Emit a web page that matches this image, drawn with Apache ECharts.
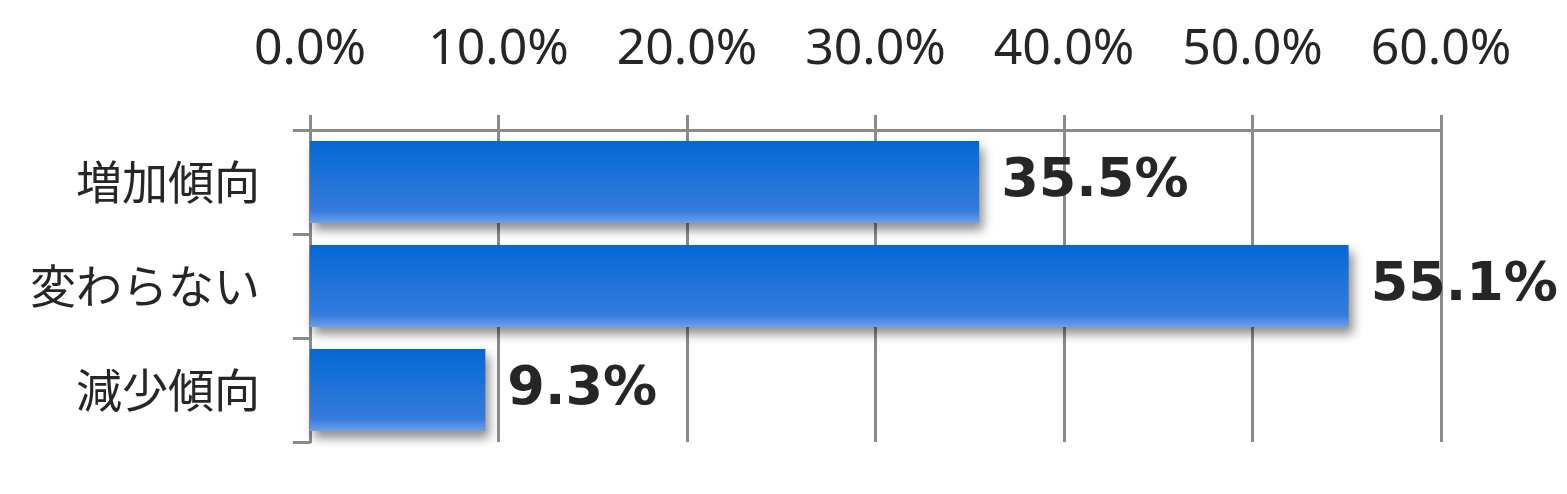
<!DOCTYPE html>
<html>
<head>
<meta charset="utf-8">
<script src="https://cdn.jsdelivr.net/npm/echarts@6/dist/echarts.min.js"></script>
<style>
  html, body { margin: 0; padding: 0; background: #fff; }
  #chart { width: 1567px; height: 494px; }
</style>
</head>
<body>
<div id="chart"></div>
<script>
// カテゴリ
let categories = ['増加傾向', '変わらない', '減少傾向'];
// 割合(%)
let values = [35.5, 55.1, 9.3];
// x軸の目盛り
let axisMin = 0;
let axisMax = 60;
let axisStep = 10;

let chart = echarts.init(document.getElementById('chart'));

let gray = '#8a8a8a';

chart.setOption({
  animation: false,
  grid: {
    left: 310,
    right: 126,
    top: 130,
    bottom: 52
  },
  xAxis: {
    type: 'value',
    position: 'top',
    min: axisMin,
    max: axisMax,
    interval: axisStep,
    axisLine: {
      show: true,
      lineStyle: {color: gray, width: 3}
    },
    axisTick: {
      show: true,
      length: 15,
      lineStyle: {color: gray, width: 3}
    },
    splitLine: {
      show: true,
      lineStyle: {color: gray, width: 3}
    },
    axisLabel: {
      margin: 55,
      fontSize: 50,
      fontFamily: 'Noto Sans',
      color: '#262626',
      formatter: function (v) {
        return v.toFixed(1) + '%';
      }
    }
  },
  yAxis: {
    type: 'category',
    inverse: true,
    data: categories,
    axisLine: {
      show: true,
      lineStyle: {color: gray, width: 3}
    },
    axisTick: {
      show: true,
      length: 17,
      lineStyle: {color: gray, width: 3}
    },
    axisLabel: {
      margin: 50,
      fontSize: 46,
      fontFamily: 'Noto Sans CJK JP',
      color: '#262626',
      padding: [0, 0, 8, 0]
    }
  },
  series: [
    {
      type: 'bar',
      data: values,
      barWidth: '79%',
      itemStyle: {
        color: new echarts.graphic.LinearGradient(0, 0, 0, 1, [
          {offset: 0, color: '#0567d5'},
          {offset: 0.85, color: '#357cdc'},
          {offset: 1, color: '#6f9fea'}
        ]),
        shadowColor: 'rgba(0,0,0,0.45)',
        shadowBlur: 10,
        shadowOffsetX: 4,
        shadowOffsetY: 7
      },
      label: {
        show: true,
        position: 'right',
        distance: 22,
        fontSize: 54,
        fontWeight: 'bold',
        fontFamily: 'DejaVu Sans',
        color: '#262626',
        formatter: function (p) {
          return p.value.toFixed(1) + '%';
        }
      }
    }
  ]
});
</script>
</body>
</html>
